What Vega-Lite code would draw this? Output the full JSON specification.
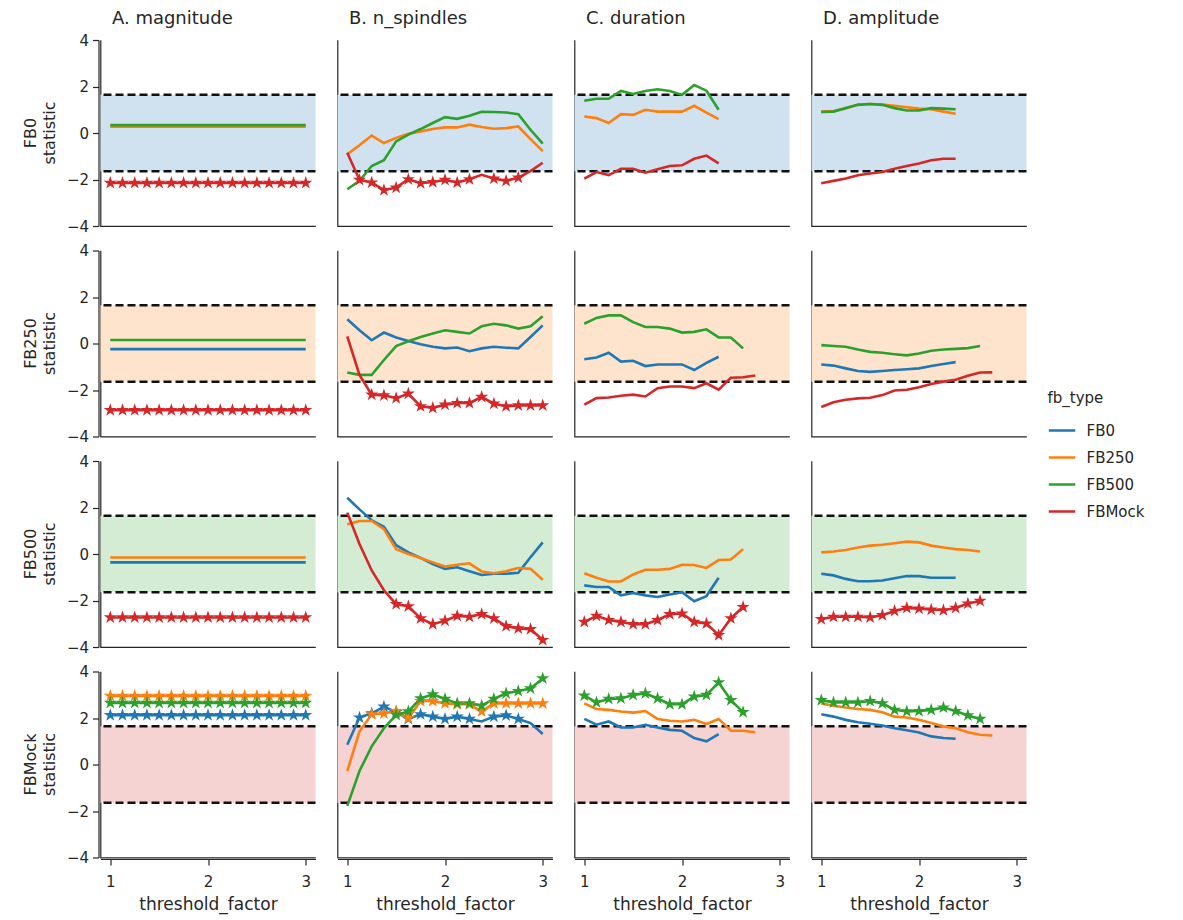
{
"$schema":"https://vega.github.io/schema/vega-lite/v6.json",
"background":"white",
"padding":{"left":22.5,"top":10,"right":5,"bottom":5},
"data":{"values":[
{"row":"FB0","col":"A","fb":"FB250","x":1,"y":0.27},{"row":"FB0","col":"A","fb":"FB250","x":1.125,"y":0.27},{"row":"FB0","col":"A","fb":"FB250","x":1.25,"y":0.27},{"row":"FB0","col":"A","fb":"FB250","x":1.375,"y":0.27},{"row":"FB0","col":"A","fb":"FB250","x":1.5,"y":0.27},{"row":"FB0","col":"A","fb":"FB250","x":1.625,"y":0.27},{"row":"FB0","col":"A","fb":"FB250","x":1.75,"y":0.27},{"row":"FB0","col":"A","fb":"FB250","x":1.875,"y":0.27},{"row":"FB0","col":"A","fb":"FB250","x":2,"y":0.27},{"row":"FB0","col":"A","fb":"FB250","x":2.125,"y":0.27},{"row":"FB0","col":"A","fb":"FB250","x":2.25,"y":0.27},{"row":"FB0","col":"A","fb":"FB250","x":2.375,"y":0.27},{"row":"FB0","col":"A","fb":"FB250","x":2.5,"y":0.27},{"row":"FB0","col":"A","fb":"FB250","x":2.625,"y":0.27},{"row":"FB0","col":"A","fb":"FB250","x":2.75,"y":0.27},{"row":"FB0","col":"A","fb":"FB250","x":2.875,"y":0.27},{"row":"FB0","col":"A","fb":"FB250","x":3,"y":0.27},
{"row":"FB0","col":"A","fb":"FB500","x":1,"y":0.34},{"row":"FB0","col":"A","fb":"FB500","x":1.125,"y":0.34},{"row":"FB0","col":"A","fb":"FB500","x":1.25,"y":0.34},{"row":"FB0","col":"A","fb":"FB500","x":1.375,"y":0.34},{"row":"FB0","col":"A","fb":"FB500","x":1.5,"y":0.34},{"row":"FB0","col":"A","fb":"FB500","x":1.625,"y":0.34},{"row":"FB0","col":"A","fb":"FB500","x":1.75,"y":0.34},{"row":"FB0","col":"A","fb":"FB500","x":1.875,"y":0.34},{"row":"FB0","col":"A","fb":"FB500","x":2,"y":0.34},{"row":"FB0","col":"A","fb":"FB500","x":2.125,"y":0.34},{"row":"FB0","col":"A","fb":"FB500","x":2.25,"y":0.34},{"row":"FB0","col":"A","fb":"FB500","x":2.375,"y":0.34},{"row":"FB0","col":"A","fb":"FB500","x":2.5,"y":0.34},{"row":"FB0","col":"A","fb":"FB500","x":2.625,"y":0.34},{"row":"FB0","col":"A","fb":"FB500","x":2.75,"y":0.34},{"row":"FB0","col":"A","fb":"FB500","x":2.875,"y":0.34},{"row":"FB0","col":"A","fb":"FB500","x":3,"y":0.34},
{"row":"FB0","col":"A","fb":"FBMock","x":1,"y":-2.15,"sig":1},{"row":"FB0","col":"A","fb":"FBMock","x":1.125,"y":-2.15,"sig":1},{"row":"FB0","col":"A","fb":"FBMock","x":1.25,"y":-2.15,"sig":1},{"row":"FB0","col":"A","fb":"FBMock","x":1.375,"y":-2.15,"sig":1},{"row":"FB0","col":"A","fb":"FBMock","x":1.5,"y":-2.15,"sig":1},{"row":"FB0","col":"A","fb":"FBMock","x":1.625,"y":-2.15,"sig":1},{"row":"FB0","col":"A","fb":"FBMock","x":1.75,"y":-2.15,"sig":1},{"row":"FB0","col":"A","fb":"FBMock","x":1.875,"y":-2.15,"sig":1},{"row":"FB0","col":"A","fb":"FBMock","x":2,"y":-2.15,"sig":1},{"row":"FB0","col":"A","fb":"FBMock","x":2.125,"y":-2.15,"sig":1},{"row":"FB0","col":"A","fb":"FBMock","x":2.25,"y":-2.15,"sig":1},{"row":"FB0","col":"A","fb":"FBMock","x":2.375,"y":-2.15,"sig":1},{"row":"FB0","col":"A","fb":"FBMock","x":2.5,"y":-2.15,"sig":1},{"row":"FB0","col":"A","fb":"FBMock","x":2.625,"y":-2.15,"sig":1},{"row":"FB0","col":"A","fb":"FBMock","x":2.75,"y":-2.15,"sig":1},{"row":"FB0","col":"A","fb":"FBMock","x":2.875,"y":-2.15,"sig":1},{"row":"FB0","col":"A","fb":"FBMock","x":3,"y":-2.15,"sig":1},
{"row":"FB250","col":"A","fb":"FB0","x":1,"y":-0.24},{"row":"FB250","col":"A","fb":"FB0","x":1.125,"y":-0.24},{"row":"FB250","col":"A","fb":"FB0","x":1.25,"y":-0.24},{"row":"FB250","col":"A","fb":"FB0","x":1.375,"y":-0.24},{"row":"FB250","col":"A","fb":"FB0","x":1.5,"y":-0.24},{"row":"FB250","col":"A","fb":"FB0","x":1.625,"y":-0.24},{"row":"FB250","col":"A","fb":"FB0","x":1.75,"y":-0.24},{"row":"FB250","col":"A","fb":"FB0","x":1.875,"y":-0.24},{"row":"FB250","col":"A","fb":"FB0","x":2,"y":-0.24},{"row":"FB250","col":"A","fb":"FB0","x":2.125,"y":-0.24},{"row":"FB250","col":"A","fb":"FB0","x":2.25,"y":-0.24},{"row":"FB250","col":"A","fb":"FB0","x":2.375,"y":-0.24},{"row":"FB250","col":"A","fb":"FB0","x":2.5,"y":-0.24},{"row":"FB250","col":"A","fb":"FB0","x":2.625,"y":-0.24},{"row":"FB250","col":"A","fb":"FB0","x":2.75,"y":-0.24},{"row":"FB250","col":"A","fb":"FB0","x":2.875,"y":-0.24},{"row":"FB250","col":"A","fb":"FB0","x":3,"y":-0.24},
{"row":"FB250","col":"A","fb":"FB500","x":1,"y":0.15},{"row":"FB250","col":"A","fb":"FB500","x":1.125,"y":0.15},{"row":"FB250","col":"A","fb":"FB500","x":1.25,"y":0.15},{"row":"FB250","col":"A","fb":"FB500","x":1.375,"y":0.15},{"row":"FB250","col":"A","fb":"FB500","x":1.5,"y":0.15},{"row":"FB250","col":"A","fb":"FB500","x":1.625,"y":0.15},{"row":"FB250","col":"A","fb":"FB500","x":1.75,"y":0.15},{"row":"FB250","col":"A","fb":"FB500","x":1.875,"y":0.15},{"row":"FB250","col":"A","fb":"FB500","x":2,"y":0.15},{"row":"FB250","col":"A","fb":"FB500","x":2.125,"y":0.15},{"row":"FB250","col":"A","fb":"FB500","x":2.25,"y":0.15},{"row":"FB250","col":"A","fb":"FB500","x":2.375,"y":0.15},{"row":"FB250","col":"A","fb":"FB500","x":2.5,"y":0.15},{"row":"FB250","col":"A","fb":"FB500","x":2.625,"y":0.15},{"row":"FB250","col":"A","fb":"FB500","x":2.75,"y":0.15},{"row":"FB250","col":"A","fb":"FB500","x":2.875,"y":0.15},{"row":"FB250","col":"A","fb":"FB500","x":3,"y":0.15},
{"row":"FB250","col":"A","fb":"FBMock","x":1,"y":-2.87,"sig":1},{"row":"FB250","col":"A","fb":"FBMock","x":1.125,"y":-2.87,"sig":1},{"row":"FB250","col":"A","fb":"FBMock","x":1.25,"y":-2.87,"sig":1},{"row":"FB250","col":"A","fb":"FBMock","x":1.375,"y":-2.87,"sig":1},{"row":"FB250","col":"A","fb":"FBMock","x":1.5,"y":-2.87,"sig":1},{"row":"FB250","col":"A","fb":"FBMock","x":1.625,"y":-2.87,"sig":1},{"row":"FB250","col":"A","fb":"FBMock","x":1.75,"y":-2.87,"sig":1},{"row":"FB250","col":"A","fb":"FBMock","x":1.875,"y":-2.87,"sig":1},{"row":"FB250","col":"A","fb":"FBMock","x":2,"y":-2.87,"sig":1},{"row":"FB250","col":"A","fb":"FBMock","x":2.125,"y":-2.87,"sig":1},{"row":"FB250","col":"A","fb":"FBMock","x":2.25,"y":-2.87,"sig":1},{"row":"FB250","col":"A","fb":"FBMock","x":2.375,"y":-2.87,"sig":1},{"row":"FB250","col":"A","fb":"FBMock","x":2.5,"y":-2.87,"sig":1},{"row":"FB250","col":"A","fb":"FBMock","x":2.625,"y":-2.87,"sig":1},{"row":"FB250","col":"A","fb":"FBMock","x":2.75,"y":-2.87,"sig":1},{"row":"FB250","col":"A","fb":"FBMock","x":2.875,"y":-2.87,"sig":1},{"row":"FB250","col":"A","fb":"FBMock","x":3,"y":-2.87,"sig":1},
{"row":"FB500","col":"A","fb":"FB0","x":1,"y":-0.36},{"row":"FB500","col":"A","fb":"FB0","x":1.125,"y":-0.36},{"row":"FB500","col":"A","fb":"FB0","x":1.25,"y":-0.36},{"row":"FB500","col":"A","fb":"FB0","x":1.375,"y":-0.36},{"row":"FB500","col":"A","fb":"FB0","x":1.5,"y":-0.36},{"row":"FB500","col":"A","fb":"FB0","x":1.625,"y":-0.36},{"row":"FB500","col":"A","fb":"FB0","x":1.75,"y":-0.36},{"row":"FB500","col":"A","fb":"FB0","x":1.875,"y":-0.36},{"row":"FB500","col":"A","fb":"FB0","x":2,"y":-0.36},{"row":"FB500","col":"A","fb":"FB0","x":2.125,"y":-0.36},{"row":"FB500","col":"A","fb":"FB0","x":2.25,"y":-0.36},{"row":"FB500","col":"A","fb":"FB0","x":2.375,"y":-0.36},{"row":"FB500","col":"A","fb":"FB0","x":2.5,"y":-0.36},{"row":"FB500","col":"A","fb":"FB0","x":2.625,"y":-0.36},{"row":"FB500","col":"A","fb":"FB0","x":2.75,"y":-0.36},{"row":"FB500","col":"A","fb":"FB0","x":2.875,"y":-0.36},{"row":"FB500","col":"A","fb":"FB0","x":3,"y":-0.36},
{"row":"FB500","col":"A","fb":"FB250","x":1,"y":-0.15},{"row":"FB500","col":"A","fb":"FB250","x":1.125,"y":-0.15},{"row":"FB500","col":"A","fb":"FB250","x":1.25,"y":-0.15},{"row":"FB500","col":"A","fb":"FB250","x":1.375,"y":-0.15},{"row":"FB500","col":"A","fb":"FB250","x":1.5,"y":-0.15},{"row":"FB500","col":"A","fb":"FB250","x":1.625,"y":-0.15},{"row":"FB500","col":"A","fb":"FB250","x":1.75,"y":-0.15},{"row":"FB500","col":"A","fb":"FB250","x":1.875,"y":-0.15},{"row":"FB500","col":"A","fb":"FB250","x":2,"y":-0.15},{"row":"FB500","col":"A","fb":"FB250","x":2.125,"y":-0.15},{"row":"FB500","col":"A","fb":"FB250","x":2.25,"y":-0.15},{"row":"FB500","col":"A","fb":"FB250","x":2.375,"y":-0.15},{"row":"FB500","col":"A","fb":"FB250","x":2.5,"y":-0.15},{"row":"FB500","col":"A","fb":"FB250","x":2.625,"y":-0.15},{"row":"FB500","col":"A","fb":"FB250","x":2.75,"y":-0.15},{"row":"FB500","col":"A","fb":"FB250","x":2.875,"y":-0.15},{"row":"FB500","col":"A","fb":"FB250","x":3,"y":-0.15},
{"row":"FB500","col":"A","fb":"FBMock","x":1,"y":-2.73,"sig":1},{"row":"FB500","col":"A","fb":"FBMock","x":1.125,"y":-2.73,"sig":1},{"row":"FB500","col":"A","fb":"FBMock","x":1.25,"y":-2.73,"sig":1},{"row":"FB500","col":"A","fb":"FBMock","x":1.375,"y":-2.73,"sig":1},{"row":"FB500","col":"A","fb":"FBMock","x":1.5,"y":-2.73,"sig":1},{"row":"FB500","col":"A","fb":"FBMock","x":1.625,"y":-2.73,"sig":1},{"row":"FB500","col":"A","fb":"FBMock","x":1.75,"y":-2.73,"sig":1},{"row":"FB500","col":"A","fb":"FBMock","x":1.875,"y":-2.73,"sig":1},{"row":"FB500","col":"A","fb":"FBMock","x":2,"y":-2.73,"sig":1},{"row":"FB500","col":"A","fb":"FBMock","x":2.125,"y":-2.73,"sig":1},{"row":"FB500","col":"A","fb":"FBMock","x":2.25,"y":-2.73,"sig":1},{"row":"FB500","col":"A","fb":"FBMock","x":2.375,"y":-2.73,"sig":1},{"row":"FB500","col":"A","fb":"FBMock","x":2.5,"y":-2.73,"sig":1},{"row":"FB500","col":"A","fb":"FBMock","x":2.625,"y":-2.73,"sig":1},{"row":"FB500","col":"A","fb":"FBMock","x":2.75,"y":-2.73,"sig":1},{"row":"FB500","col":"A","fb":"FBMock","x":2.875,"y":-2.73,"sig":1},{"row":"FB500","col":"A","fb":"FBMock","x":3,"y":-2.73,"sig":1},
{"row":"FBMock","col":"A","fb":"FB0","x":1,"y":2.12,"sig":1},{"row":"FBMock","col":"A","fb":"FB0","x":1.125,"y":2.12,"sig":1},{"row":"FBMock","col":"A","fb":"FB0","x":1.25,"y":2.12,"sig":1},{"row":"FBMock","col":"A","fb":"FB0","x":1.375,"y":2.12,"sig":1},{"row":"FBMock","col":"A","fb":"FB0","x":1.5,"y":2.12,"sig":1},{"row":"FBMock","col":"A","fb":"FB0","x":1.625,"y":2.12,"sig":1},{"row":"FBMock","col":"A","fb":"FB0","x":1.75,"y":2.12,"sig":1},{"row":"FBMock","col":"A","fb":"FB0","x":1.875,"y":2.12,"sig":1},{"row":"FBMock","col":"A","fb":"FB0","x":2,"y":2.12,"sig":1},{"row":"FBMock","col":"A","fb":"FB0","x":2.125,"y":2.12,"sig":1},{"row":"FBMock","col":"A","fb":"FB0","x":2.25,"y":2.12,"sig":1},{"row":"FBMock","col":"A","fb":"FB0","x":2.375,"y":2.12,"sig":1},{"row":"FBMock","col":"A","fb":"FB0","x":2.5,"y":2.12,"sig":1},{"row":"FBMock","col":"A","fb":"FB0","x":2.625,"y":2.12,"sig":1},{"row":"FBMock","col":"A","fb":"FB0","x":2.75,"y":2.12,"sig":1},{"row":"FBMock","col":"A","fb":"FB0","x":2.875,"y":2.12,"sig":1},{"row":"FBMock","col":"A","fb":"FB0","x":3,"y":2.12,"sig":1},
{"row":"FBMock","col":"A","fb":"FB250","x":1,"y":2.95,"sig":1},{"row":"FBMock","col":"A","fb":"FB250","x":1.125,"y":2.95,"sig":1},{"row":"FBMock","col":"A","fb":"FB250","x":1.25,"y":2.95,"sig":1},{"row":"FBMock","col":"A","fb":"FB250","x":1.375,"y":2.95,"sig":1},{"row":"FBMock","col":"A","fb":"FB250","x":1.5,"y":2.95,"sig":1},{"row":"FBMock","col":"A","fb":"FB250","x":1.625,"y":2.95,"sig":1},{"row":"FBMock","col":"A","fb":"FB250","x":1.75,"y":2.95,"sig":1},{"row":"FBMock","col":"A","fb":"FB250","x":1.875,"y":2.95,"sig":1},{"row":"FBMock","col":"A","fb":"FB250","x":2,"y":2.95,"sig":1},{"row":"FBMock","col":"A","fb":"FB250","x":2.125,"y":2.95,"sig":1},{"row":"FBMock","col":"A","fb":"FB250","x":2.25,"y":2.95,"sig":1},{"row":"FBMock","col":"A","fb":"FB250","x":2.375,"y":2.95,"sig":1},{"row":"FBMock","col":"A","fb":"FB250","x":2.5,"y":2.95,"sig":1},{"row":"FBMock","col":"A","fb":"FB250","x":2.625,"y":2.95,"sig":1},{"row":"FBMock","col":"A","fb":"FB250","x":2.75,"y":2.95,"sig":1},{"row":"FBMock","col":"A","fb":"FB250","x":2.875,"y":2.95,"sig":1},{"row":"FBMock","col":"A","fb":"FB250","x":3,"y":2.95,"sig":1},
{"row":"FBMock","col":"A","fb":"FB500","x":1,"y":2.65,"sig":1},{"row":"FBMock","col":"A","fb":"FB500","x":1.125,"y":2.65,"sig":1},{"row":"FBMock","col":"A","fb":"FB500","x":1.25,"y":2.65,"sig":1},{"row":"FBMock","col":"A","fb":"FB500","x":1.375,"y":2.65,"sig":1},{"row":"FBMock","col":"A","fb":"FB500","x":1.5,"y":2.65,"sig":1},{"row":"FBMock","col":"A","fb":"FB500","x":1.625,"y":2.65,"sig":1},{"row":"FBMock","col":"A","fb":"FB500","x":1.75,"y":2.65,"sig":1},{"row":"FBMock","col":"A","fb":"FB500","x":1.875,"y":2.65,"sig":1},{"row":"FBMock","col":"A","fb":"FB500","x":2,"y":2.65,"sig":1},{"row":"FBMock","col":"A","fb":"FB500","x":2.125,"y":2.65,"sig":1},{"row":"FBMock","col":"A","fb":"FB500","x":2.25,"y":2.65,"sig":1},{"row":"FBMock","col":"A","fb":"FB500","x":2.375,"y":2.65,"sig":1},{"row":"FBMock","col":"A","fb":"FB500","x":2.5,"y":2.65,"sig":1},{"row":"FBMock","col":"A","fb":"FB500","x":2.625,"y":2.65,"sig":1},{"row":"FBMock","col":"A","fb":"FB500","x":2.75,"y":2.65,"sig":1},{"row":"FBMock","col":"A","fb":"FB500","x":2.875,"y":2.65,"sig":1},{"row":"FBMock","col":"A","fb":"FB500","x":3,"y":2.65,"sig":1},

{"row":"FB0","col":"B","fb":"FB250","x":1,"y":-0.92},{"row":"FB0","col":"B","fb":"FB250","x":1.125,"y":-0.53},{"row":"FB0","col":"B","fb":"FB250","x":1.25,"y":-0.11},{"row":"FB0","col":"B","fb":"FB250","x":1.375,"y":-0.43},{"row":"FB0","col":"B","fb":"FB250","x":1.5,"y":-0.21},{"row":"FB0","col":"B","fb":"FB250","x":1.625,"y":-0.03},{"row":"FB0","col":"B","fb":"FB250","x":1.75,"y":0.07},{"row":"FB0","col":"B","fb":"FB250","x":1.875,"y":0.17},{"row":"FB0","col":"B","fb":"FB250","x":2,"y":0.24},{"row":"FB0","col":"B","fb":"FB250","x":2.125,"y":0.24},{"row":"FB0","col":"B","fb":"FB250","x":2.25,"y":0.36},{"row":"FB0","col":"B","fb":"FB250","x":2.375,"y":0.26},{"row":"FB0","col":"B","fb":"FB250","x":2.5,"y":0.18},{"row":"FB0","col":"B","fb":"FB250","x":2.625,"y":0.21},{"row":"FB0","col":"B","fb":"FB250","x":2.75,"y":0.28},{"row":"FB0","col":"B","fb":"FB250","x":2.875,"y":-0.26},{"row":"FB0","col":"B","fb":"FB250","x":3,"y":-0.78},
{"row":"FB0","col":"B","fb":"FB500","x":1,"y":-2.42},{"row":"FB0","col":"B","fb":"FB500","x":1.125,"y":-2.06},{"row":"FB0","col":"B","fb":"FB500","x":1.25,"y":-1.42},{"row":"FB0","col":"B","fb":"FB500","x":1.375,"y":-1.17},{"row":"FB0","col":"B","fb":"FB500","x":1.5,"y":-0.36},{"row":"FB0","col":"B","fb":"FB500","x":1.625,"y":-0.07},{"row":"FB0","col":"B","fb":"FB500","x":1.75,"y":0.17},{"row":"FB0","col":"B","fb":"FB500","x":1.875,"y":0.43},{"row":"FB0","col":"B","fb":"FB500","x":2,"y":0.68},{"row":"FB0","col":"B","fb":"FB500","x":2.125,"y":0.61},{"row":"FB0","col":"B","fb":"FB500","x":2.25,"y":0.74},{"row":"FB0","col":"B","fb":"FB500","x":2.375,"y":0.91},{"row":"FB0","col":"B","fb":"FB500","x":2.5,"y":0.9},{"row":"FB0","col":"B","fb":"FB500","x":2.625,"y":0.88},{"row":"FB0","col":"B","fb":"FB500","x":2.75,"y":0.81},{"row":"FB0","col":"B","fb":"FB500","x":2.875,"y":0.14},{"row":"FB0","col":"B","fb":"FB500","x":3,"y":-0.46},
{"row":"FB0","col":"B","fb":"FBMock","x":1,"y":-0.85},{"row":"FB0","col":"B","fb":"FBMock","x":1.125,"y":-2.02,"sig":1},{"row":"FB0","col":"B","fb":"FBMock","x":1.25,"y":-2.13,"sig":1},{"row":"FB0","col":"B","fb":"FBMock","x":1.375,"y":-2.46,"sig":1},{"row":"FB0","col":"B","fb":"FBMock","x":1.5,"y":-2.35,"sig":1},{"row":"FB0","col":"B","fb":"FBMock","x":1.625,"y":-1.99,"sig":1},{"row":"FB0","col":"B","fb":"FBMock","x":1.75,"y":-2.16,"sig":1},{"row":"FB0","col":"B","fb":"FBMock","x":1.875,"y":-2.11,"sig":1},{"row":"FB0","col":"B","fb":"FBMock","x":2,"y":-2.02,"sig":1},{"row":"FB0","col":"B","fb":"FBMock","x":2.125,"y":-2.13,"sig":1},{"row":"FB0","col":"B","fb":"FBMock","x":2.25,"y":-1.99,"sig":1},{"row":"FB0","col":"B","fb":"FBMock","x":2.375,"y":-1.8},{"row":"FB0","col":"B","fb":"FBMock","x":2.5,"y":-1.96,"sig":1},{"row":"FB0","col":"B","fb":"FBMock","x":2.625,"y":-2.06,"sig":1},{"row":"FB0","col":"B","fb":"FBMock","x":2.75,"y":-1.92,"sig":1},{"row":"FB0","col":"B","fb":"FBMock","x":2.875,"y":-1.64},{"row":"FB0","col":"B","fb":"FBMock","x":3,"y":-1.28},
{"row":"FB250","col":"B","fb":"FB0","x":1,"y":1.04},{"row":"FB250","col":"B","fb":"FB0","x":1.125,"y":0.57},{"row":"FB250","col":"B","fb":"FB0","x":1.25,"y":0.14},{"row":"FB250","col":"B","fb":"FB0","x":1.375,"y":0.47},{"row":"FB250","col":"B","fb":"FB0","x":1.5,"y":0.26},{"row":"FB250","col":"B","fb":"FB0","x":1.625,"y":0.11},{"row":"FB250","col":"B","fb":"FB0","x":1.75,"y":-0.03},{"row":"FB250","col":"B","fb":"FB0","x":1.875,"y":-0.14},{"row":"FB250","col":"B","fb":"FB0","x":2,"y":-0.21},{"row":"FB250","col":"B","fb":"FB0","x":2.125,"y":-0.17},{"row":"FB250","col":"B","fb":"FB0","x":2.25,"y":-0.33},{"row":"FB250","col":"B","fb":"FB0","x":2.375,"y":-0.21},{"row":"FB250","col":"B","fb":"FB0","x":2.5,"y":-0.14},{"row":"FB250","col":"B","fb":"FB0","x":2.625,"y":-0.18},{"row":"FB250","col":"B","fb":"FB0","x":2.75,"y":-0.21},{"row":"FB250","col":"B","fb":"FB0","x":2.875,"y":0.28},{"row":"FB250","col":"B","fb":"FB0","x":3,"y":0.78},
{"row":"FB250","col":"B","fb":"FB500","x":1,"y":-1.25},{"row":"FB250","col":"B","fb":"FB500","x":1.125,"y":-1.35},{"row":"FB250","col":"B","fb":"FB500","x":1.25,"y":-1.35},{"row":"FB250","col":"B","fb":"FB500","x":1.375,"y":-0.71},{"row":"FB250","col":"B","fb":"FB500","x":1.5,"y":-0.11},{"row":"FB250","col":"B","fb":"FB500","x":1.625,"y":0.1},{"row":"FB250","col":"B","fb":"FB500","x":1.75,"y":0.28},{"row":"FB250","col":"B","fb":"FB500","x":1.875,"y":0.43},{"row":"FB250","col":"B","fb":"FB500","x":2,"y":0.57},{"row":"FB250","col":"B","fb":"FB500","x":2.125,"y":0.5},{"row":"FB250","col":"B","fb":"FB500","x":2.25,"y":0.43},{"row":"FB250","col":"B","fb":"FB500","x":2.375,"y":0.74},{"row":"FB250","col":"B","fb":"FB500","x":2.5,"y":0.85},{"row":"FB250","col":"B","fb":"FB500","x":2.625,"y":0.78},{"row":"FB250","col":"B","fb":"FB500","x":2.75,"y":0.64},{"row":"FB250","col":"B","fb":"FB500","x":2.875,"y":0.74},{"row":"FB250","col":"B","fb":"FB500","x":3,"y":1.17},
{"row":"FB250","col":"B","fb":"FBMock","x":1,"y":0.31},{"row":"FB250","col":"B","fb":"FBMock","x":1.125,"y":-1.35},{"row":"FB250","col":"B","fb":"FBMock","x":1.25,"y":-2.2,"sig":1},{"row":"FB250","col":"B","fb":"FBMock","x":1.375,"y":-2.23,"sig":1},{"row":"FB250","col":"B","fb":"FBMock","x":1.5,"y":-2.35,"sig":1},{"row":"FB250","col":"B","fb":"FBMock","x":1.625,"y":-2.16,"sig":1},{"row":"FB250","col":"B","fb":"FBMock","x":1.75,"y":-2.7,"sig":1},{"row":"FB250","col":"B","fb":"FBMock","x":1.875,"y":-2.77,"sig":1},{"row":"FB250","col":"B","fb":"FBMock","x":2,"y":-2.63,"sig":1},{"row":"FB250","col":"B","fb":"FBMock","x":2.125,"y":-2.56,"sig":1},{"row":"FB250","col":"B","fb":"FBMock","x":2.25,"y":-2.56,"sig":1},{"row":"FB250","col":"B","fb":"FBMock","x":2.375,"y":-2.3,"sig":1},{"row":"FB250","col":"B","fb":"FBMock","x":2.5,"y":-2.59,"sig":1},{"row":"FB250","col":"B","fb":"FBMock","x":2.625,"y":-2.7,"sig":1},{"row":"FB250","col":"B","fb":"FBMock","x":2.75,"y":-2.66,"sig":1},{"row":"FB250","col":"B","fb":"FBMock","x":2.875,"y":-2.66,"sig":1},{"row":"FB250","col":"B","fb":"FBMock","x":3,"y":-2.66,"sig":1},
{"row":"FB500","col":"B","fb":"FB0","x":1,"y":2.42},{"row":"FB500","col":"B","fb":"FB0","x":1.125,"y":1.92},{"row":"FB500","col":"B","fb":"FB0","x":1.25,"y":1.45},{"row":"FB500","col":"B","fb":"FB0","x":1.375,"y":1.17},{"row":"FB500","col":"B","fb":"FB0","x":1.5,"y":0.38},{"row":"FB500","col":"B","fb":"FB0","x":1.625,"y":0.07},{"row":"FB500","col":"B","fb":"FB0","x":1.75,"y":-0.17},{"row":"FB500","col":"B","fb":"FB0","x":1.875,"y":-0.43},{"row":"FB500","col":"B","fb":"FB0","x":2,"y":-0.64},{"row":"FB500","col":"B","fb":"FB0","x":2.125,"y":-0.57},{"row":"FB500","col":"B","fb":"FB0","x":2.25,"y":-0.74},{"row":"FB500","col":"B","fb":"FB0","x":2.375,"y":-0.9},{"row":"FB500","col":"B","fb":"FB0","x":2.5,"y":-0.85},{"row":"FB500","col":"B","fb":"FB0","x":2.625,"y":-0.85},{"row":"FB500","col":"B","fb":"FB0","x":2.75,"y":-0.81},{"row":"FB500","col":"B","fb":"FB0","x":2.875,"y":-0.14},{"row":"FB500","col":"B","fb":"FB0","x":3,"y":0.5},
{"row":"FB500","col":"B","fb":"FB250","x":1,"y":1.28},{"row":"FB500","col":"B","fb":"FB250","x":1.125,"y":1.42},{"row":"FB500","col":"B","fb":"FB250","x":1.25,"y":1.42},{"row":"FB500","col":"B","fb":"FB250","x":1.375,"y":1.07},{"row":"FB500","col":"B","fb":"FB250","x":1.5,"y":0.21},{"row":"FB500","col":"B","fb":"FB250","x":1.625,"y":0},{"row":"FB500","col":"B","fb":"FB250","x":1.75,"y":-0.17},{"row":"FB500","col":"B","fb":"FB250","x":1.875,"y":-0.36},{"row":"FB500","col":"B","fb":"FB250","x":2,"y":-0.54},{"row":"FB500","col":"B","fb":"FB250","x":2.125,"y":-0.46},{"row":"FB500","col":"B","fb":"FB250","x":2.25,"y":-0.4},{"row":"FB500","col":"B","fb":"FB250","x":2.375,"y":-0.75},{"row":"FB500","col":"B","fb":"FB250","x":2.5,"y":-0.83},{"row":"FB500","col":"B","fb":"FB250","x":2.625,"y":-0.74},{"row":"FB500","col":"B","fb":"FB250","x":2.75,"y":-0.6},{"row":"FB500","col":"B","fb":"FB250","x":2.875,"y":-0.64},{"row":"FB500","col":"B","fb":"FB250","x":3,"y":-1.11},
{"row":"FB500","col":"B","fb":"FBMock","x":1,"y":1.78},{"row":"FB500","col":"B","fb":"FBMock","x":1.125,"y":0.43},{"row":"FB500","col":"B","fb":"FBMock","x":1.25,"y":-0.71},{"row":"FB500","col":"B","fb":"FBMock","x":1.375,"y":-1.56},{"row":"FB500","col":"B","fb":"FBMock","x":1.5,"y":-2.16,"sig":1},{"row":"FB500","col":"B","fb":"FBMock","x":1.625,"y":-2.25,"sig":1},{"row":"FB500","col":"B","fb":"FBMock","x":1.75,"y":-2.77,"sig":1},{"row":"FB500","col":"B","fb":"FBMock","x":1.875,"y":-3.02,"sig":1},{"row":"FB500","col":"B","fb":"FBMock","x":2,"y":-2.87,"sig":1},{"row":"FB500","col":"B","fb":"FBMock","x":2.125,"y":-2.66,"sig":1},{"row":"FB500","col":"B","fb":"FBMock","x":2.25,"y":-2.7,"sig":1},{"row":"FB500","col":"B","fb":"FBMock","x":2.375,"y":-2.59,"sig":1},{"row":"FB500","col":"B","fb":"FBMock","x":2.5,"y":-2.77,"sig":1},{"row":"FB500","col":"B","fb":"FBMock","x":2.625,"y":-3.1,"sig":1},{"row":"FB500","col":"B","fb":"FBMock","x":2.75,"y":-3.2,"sig":1},{"row":"FB500","col":"B","fb":"FBMock","x":2.875,"y":-3.23,"sig":1},{"row":"FB500","col":"B","fb":"FBMock","x":3,"y":-3.7,"sig":1},
{"row":"FBMock","col":"B","fb":"FB0","x":1,"y":0.85},{"row":"FBMock","col":"B","fb":"FB0","x":1.125,"y":2.02,"sig":1},{"row":"FBMock","col":"B","fb":"FB0","x":1.25,"y":2.2,"sig":1},{"row":"FBMock","col":"B","fb":"FB0","x":1.375,"y":2.49,"sig":1},{"row":"FBMock","col":"B","fb":"FB0","x":1.5,"y":2.25,"sig":1},{"row":"FBMock","col":"B","fb":"FB0","x":1.625,"y":1.96,"sig":1},{"row":"FBMock","col":"B","fb":"FB0","x":1.75,"y":2.16,"sig":1},{"row":"FBMock","col":"B","fb":"FB0","x":1.875,"y":2.06,"sig":1},{"row":"FBMock","col":"B","fb":"FB0","x":2,"y":1.96,"sig":1},{"row":"FBMock","col":"B","fb":"FB0","x":2.125,"y":2.06,"sig":1},{"row":"FBMock","col":"B","fb":"FB0","x":2.25,"y":1.96,"sig":1},{"row":"FBMock","col":"B","fb":"FB0","x":2.375,"y":1.85},{"row":"FBMock","col":"B","fb":"FB0","x":2.5,"y":2.06,"sig":1},{"row":"FBMock","col":"B","fb":"FB0","x":2.625,"y":2.11,"sig":1},{"row":"FBMock","col":"B","fb":"FB0","x":2.75,"y":1.96,"sig":1},{"row":"FBMock","col":"B","fb":"FB0","x":2.875,"y":1.78},{"row":"FBMock","col":"B","fb":"FB0","x":3,"y":1.31},
{"row":"FBMock","col":"B","fb":"FB250","x":1,"y":-0.28},{"row":"FBMock","col":"B","fb":"FB250","x":1.125,"y":1.42},{"row":"FBMock","col":"B","fb":"FB250","x":1.25,"y":2.16,"sig":1},{"row":"FBMock","col":"B","fb":"FB250","x":1.375,"y":2.2,"sig":1},{"row":"FBMock","col":"B","fb":"FB250","x":1.5,"y":2.3,"sig":1},{"row":"FBMock","col":"B","fb":"FB250","x":1.625,"y":1.99,"sig":1},{"row":"FBMock","col":"B","fb":"FB250","x":1.75,"y":2.73,"sig":1},{"row":"FBMock","col":"B","fb":"FB250","x":1.875,"y":2.73,"sig":1},{"row":"FBMock","col":"B","fb":"FB250","x":2,"y":2.63,"sig":1},{"row":"FBMock","col":"B","fb":"FB250","x":2.125,"y":2.59,"sig":1},{"row":"FBMock","col":"B","fb":"FB250","x":2.25,"y":2.59,"sig":1},{"row":"FBMock","col":"B","fb":"FB250","x":2.375,"y":2.28,"sig":1},{"row":"FBMock","col":"B","fb":"FB250","x":2.5,"y":2.63,"sig":1},{"row":"FBMock","col":"B","fb":"FB250","x":2.625,"y":2.63,"sig":1},{"row":"FBMock","col":"B","fb":"FB250","x":2.75,"y":2.63,"sig":1},{"row":"FBMock","col":"B","fb":"FB250","x":2.875,"y":2.63,"sig":1},{"row":"FBMock","col":"B","fb":"FB250","x":3,"y":2.63,"sig":1},
{"row":"FBMock","col":"B","fb":"FB500","x":1,"y":-1.78},{"row":"FBMock","col":"B","fb":"FB500","x":1.125,"y":-0.28},{"row":"FBMock","col":"B","fb":"FB500","x":1.25,"y":0.78},{"row":"FBMock","col":"B","fb":"FB500","x":1.375,"y":1.56},{"row":"FBMock","col":"B","fb":"FB500","x":1.5,"y":2.13,"sig":1},{"row":"FBMock","col":"B","fb":"FB500","x":1.625,"y":2.28,"sig":1},{"row":"FBMock","col":"B","fb":"FB500","x":1.75,"y":2.84,"sig":1},{"row":"FBMock","col":"B","fb":"FB500","x":1.875,"y":3.02,"sig":1},{"row":"FBMock","col":"B","fb":"FB500","x":2,"y":2.82,"sig":1},{"row":"FBMock","col":"B","fb":"FB500","x":2.125,"y":2.63,"sig":1},{"row":"FBMock","col":"B","fb":"FB500","x":2.25,"y":2.63,"sig":1},{"row":"FBMock","col":"B","fb":"FB500","x":2.375,"y":2.53,"sig":1},{"row":"FBMock","col":"B","fb":"FB500","x":2.5,"y":2.82,"sig":1},{"row":"FBMock","col":"B","fb":"FB500","x":2.625,"y":3.06,"sig":1},{"row":"FBMock","col":"B","fb":"FB500","x":2.75,"y":3.16,"sig":1},{"row":"FBMock","col":"B","fb":"FB500","x":2.875,"y":3.27,"sig":1},{"row":"FBMock","col":"B","fb":"FB500","x":3,"y":3.7,"sig":1},

{"row":"FB0","col":"C","fb":"FB250","x":1,"y":0.71},{"row":"FB0","col":"C","fb":"FB250","x":1.125,"y":0.64},{"row":"FB0","col":"C","fb":"FB250","x":1.25,"y":0.43},{"row":"FB0","col":"C","fb":"FB250","x":1.375,"y":0.81},{"row":"FB0","col":"C","fb":"FB250","x":1.5,"y":0.78},{"row":"FB0","col":"C","fb":"FB250","x":1.625,"y":1},{"row":"FB0","col":"C","fb":"FB250","x":1.75,"y":0.92},{"row":"FB0","col":"C","fb":"FB250","x":1.875,"y":0.92},{"row":"FB0","col":"C","fb":"FB250","x":2,"y":0.92},{"row":"FB0","col":"C","fb":"FB250","x":2.125,"y":1.17},{"row":"FB0","col":"C","fb":"FB250","x":2.25,"y":0.88},{"row":"FB0","col":"C","fb":"FB250","x":2.375,"y":0.6},
{"row":"FB0","col":"C","fb":"FB500","x":1,"y":1.39},{"row":"FB0","col":"C","fb":"FB500","x":1.125,"y":1.47},{"row":"FB0","col":"C","fb":"FB500","x":1.25,"y":1.47},{"row":"FB0","col":"C","fb":"FB500","x":1.375,"y":1.81},{"row":"FB0","col":"C","fb":"FB500","x":1.5,"y":1.68},{"row":"FB0","col":"C","fb":"FB500","x":1.625,"y":1.81},{"row":"FB0","col":"C","fb":"FB500","x":1.75,"y":1.88},{"row":"FB0","col":"C","fb":"FB500","x":1.875,"y":1.81},{"row":"FB0","col":"C","fb":"FB500","x":2,"y":1.64},{"row":"FB0","col":"C","fb":"FB500","x":2.125,"y":2.06},{"row":"FB0","col":"C","fb":"FB500","x":2.25,"y":1.82},{"row":"FB0","col":"C","fb":"FB500","x":2.375,"y":1},
{"row":"FB0","col":"C","fb":"FBMock","x":1,"y":-1.96},{"row":"FB0","col":"C","fb":"FBMock","x":1.125,"y":-1.68},{"row":"FB0","col":"C","fb":"FBMock","x":1.25,"y":-1.81},{"row":"FB0","col":"C","fb":"FBMock","x":1.375,"y":-1.54},{"row":"FB0","col":"C","fb":"FBMock","x":1.5,"y":-1.54},{"row":"FB0","col":"C","fb":"FBMock","x":1.625,"y":-1.71},{"row":"FB0","col":"C","fb":"FBMock","x":1.75,"y":-1.56},{"row":"FB0","col":"C","fb":"FBMock","x":1.875,"y":-1.42},{"row":"FB0","col":"C","fb":"FBMock","x":2,"y":-1.39},{"row":"FB0","col":"C","fb":"FBMock","x":2.125,"y":-1.11},{"row":"FB0","col":"C","fb":"FBMock","x":2.25,"y":-0.97},{"row":"FB0","col":"C","fb":"FBMock","x":2.375,"y":-1.31},
{"row":"FB250","col":"C","fb":"FB0","x":1,"y":-0.68},{"row":"FB250","col":"C","fb":"FB0","x":1.125,"y":-0.6},{"row":"FB250","col":"C","fb":"FB0","x":1.25,"y":-0.4},{"row":"FB250","col":"C","fb":"FB0","x":1.375,"y":-0.78},{"row":"FB250","col":"C","fb":"FB0","x":1.5,"y":-0.74},{"row":"FB250","col":"C","fb":"FB0","x":1.625,"y":-0.97},{"row":"FB250","col":"C","fb":"FB0","x":1.75,"y":-0.9},{"row":"FB250","col":"C","fb":"FB0","x":1.875,"y":-0.9},{"row":"FB250","col":"C","fb":"FB0","x":2,"y":-0.9},{"row":"FB250","col":"C","fb":"FB0","x":2.125,"y":-1.14},{"row":"FB250","col":"C","fb":"FB0","x":2.25,"y":-0.83},{"row":"FB250","col":"C","fb":"FB0","x":2.375,"y":-0.57},
{"row":"FB250","col":"C","fb":"FB500","x":1,"y":0.85},{"row":"FB250","col":"C","fb":"FB500","x":1.125,"y":1.1},{"row":"FB250","col":"C","fb":"FB500","x":1.25,"y":1.21},{"row":"FB250","col":"C","fb":"FB500","x":1.375,"y":1.21},{"row":"FB250","col":"C","fb":"FB500","x":1.5,"y":0.92},{"row":"FB250","col":"C","fb":"FB500","x":1.625,"y":0.71},{"row":"FB250","col":"C","fb":"FB500","x":1.75,"y":0.71},{"row":"FB250","col":"C","fb":"FB500","x":1.875,"y":0.64},{"row":"FB250","col":"C","fb":"FB500","x":2,"y":0.47},{"row":"FB250","col":"C","fb":"FB500","x":2.125,"y":0.5},{"row":"FB250","col":"C","fb":"FB500","x":2.25,"y":0.61},{"row":"FB250","col":"C","fb":"FB500","x":2.375,"y":0.26},{"row":"FB250","col":"C","fb":"FB500","x":2.5,"y":0.26},{"row":"FB250","col":"C","fb":"FB500","x":2.625,"y":-0.21},
{"row":"FB250","col":"C","fb":"FBMock","x":1,"y":-2.63},{"row":"FB250","col":"C","fb":"FBMock","x":1.125,"y":-2.35},{"row":"FB250","col":"C","fb":"FBMock","x":1.25,"y":-2.32},{"row":"FB250","col":"C","fb":"FBMock","x":1.375,"y":-2.25},{"row":"FB250","col":"C","fb":"FBMock","x":1.5,"y":-2.2},{"row":"FB250","col":"C","fb":"FBMock","x":1.625,"y":-2.28},{"row":"FB250","col":"C","fb":"FBMock","x":1.75,"y":-1.92},{"row":"FB250","col":"C","fb":"FBMock","x":1.875,"y":-1.85},{"row":"FB250","col":"C","fb":"FBMock","x":2,"y":-1.85},{"row":"FB250","col":"C","fb":"FBMock","x":2.125,"y":-1.92},{"row":"FB250","col":"C","fb":"FBMock","x":2.25,"y":-1.71},{"row":"FB250","col":"C","fb":"FBMock","x":2.375,"y":-1.99},{"row":"FB250","col":"C","fb":"FBMock","x":2.5,"y":-1.47},{"row":"FB250","col":"C","fb":"FBMock","x":2.625,"y":-1.45},{"row":"FB250","col":"C","fb":"FBMock","x":2.75,"y":-1.38},
{"row":"FB500","col":"C","fb":"FB0","x":1,"y":-1.35},{"row":"FB500","col":"C","fb":"FB0","x":1.125,"y":-1.42},{"row":"FB500","col":"C","fb":"FB0","x":1.25,"y":-1.42},{"row":"FB500","col":"C","fb":"FB0","x":1.375,"y":-1.78},{"row":"FB500","col":"C","fb":"FB0","x":1.5,"y":-1.68},{"row":"FB500","col":"C","fb":"FB0","x":1.625,"y":-1.78},{"row":"FB500","col":"C","fb":"FB0","x":1.75,"y":-1.85},{"row":"FB500","col":"C","fb":"FB0","x":1.875,"y":-1.74},{"row":"FB500","col":"C","fb":"FB0","x":2,"y":-1.64},{"row":"FB500","col":"C","fb":"FB0","x":2.125,"y":-2.03},{"row":"FB500","col":"C","fb":"FB0","x":2.25,"y":-1.81},{"row":"FB500","col":"C","fb":"FB0","x":2.375,"y":-1.02},
{"row":"FB500","col":"C","fb":"FB250","x":1,"y":-0.83},{"row":"FB500","col":"C","fb":"FB250","x":1.125,"y":-1.02},{"row":"FB500","col":"C","fb":"FB250","x":1.25,"y":-1.18},{"row":"FB500","col":"C","fb":"FB250","x":1.375,"y":-1.18},{"row":"FB500","col":"C","fb":"FB250","x":1.5,"y":-0.88},{"row":"FB500","col":"C","fb":"FB250","x":1.625,"y":-0.68},{"row":"FB500","col":"C","fb":"FB250","x":1.75,"y":-0.68},{"row":"FB500","col":"C","fb":"FB250","x":1.875,"y":-0.64},{"row":"FB500","col":"C","fb":"FB250","x":2,"y":-0.46},{"row":"FB500","col":"C","fb":"FB250","x":2.125,"y":-0.47},{"row":"FB500","col":"C","fb":"FB250","x":2.25,"y":-0.6},{"row":"FB500","col":"C","fb":"FB250","x":2.375,"y":-0.26},{"row":"FB500","col":"C","fb":"FB250","x":2.5,"y":-0.24},{"row":"FB500","col":"C","fb":"FB250","x":2.625,"y":0.21},
{"row":"FB500","col":"C","fb":"FBMock","x":1,"y":-2.92,"sig":1},{"row":"FB500","col":"C","fb":"FBMock","x":1.125,"y":-2.66,"sig":1},{"row":"FB500","col":"C","fb":"FBMock","x":1.25,"y":-2.84,"sig":1},{"row":"FB500","col":"C","fb":"FBMock","x":1.375,"y":-2.92,"sig":1},{"row":"FB500","col":"C","fb":"FBMock","x":1.5,"y":-3.02,"sig":1},{"row":"FB500","col":"C","fb":"FBMock","x":1.625,"y":-3.02,"sig":1},{"row":"FB500","col":"C","fb":"FBMock","x":1.75,"y":-2.84,"sig":1},{"row":"FB500","col":"C","fb":"FBMock","x":1.875,"y":-2.59,"sig":1},{"row":"FB500","col":"C","fb":"FBMock","x":2,"y":-2.56,"sig":1},{"row":"FB500","col":"C","fb":"FBMock","x":2.125,"y":-2.92,"sig":1},{"row":"FB500","col":"C","fb":"FBMock","x":2.25,"y":-2.99,"sig":1},{"row":"FB500","col":"C","fb":"FBMock","x":2.375,"y":-3.49,"sig":1},{"row":"FB500","col":"C","fb":"FBMock","x":2.5,"y":-2.77,"sig":1},{"row":"FB500","col":"C","fb":"FBMock","x":2.625,"y":-2.28,"sig":1},
{"row":"FBMock","col":"C","fb":"FB0","x":1,"y":1.96},{"row":"FBMock","col":"C","fb":"FB0","x":1.125,"y":1.71},{"row":"FBMock","col":"C","fb":"FB0","x":1.25,"y":1.85},{"row":"FBMock","col":"C","fb":"FB0","x":1.375,"y":1.59},{"row":"FBMock","col":"C","fb":"FB0","x":1.5,"y":1.59},{"row":"FBMock","col":"C","fb":"FB0","x":1.625,"y":1.71},{"row":"FBMock","col":"C","fb":"FB0","x":1.75,"y":1.59},{"row":"FBMock","col":"C","fb":"FB0","x":1.875,"y":1.49},{"row":"FBMock","col":"C","fb":"FB0","x":2,"y":1.45},{"row":"FBMock","col":"C","fb":"FB0","x":2.125,"y":1.14},{"row":"FBMock","col":"C","fb":"FB0","x":2.25,"y":1},{"row":"FBMock","col":"C","fb":"FB0","x":2.375,"y":1.31},
{"row":"FBMock","col":"C","fb":"FB250","x":1,"y":2.63},{"row":"FBMock","col":"C","fb":"FB250","x":1.125,"y":2.39},{"row":"FBMock","col":"C","fb":"FB250","x":1.25,"y":2.35},{"row":"FBMock","col":"C","fb":"FB250","x":1.375,"y":2.28},{"row":"FBMock","col":"C","fb":"FB250","x":1.5,"y":2.23},{"row":"FBMock","col":"C","fb":"FB250","x":1.625,"y":2.3},{"row":"FBMock","col":"C","fb":"FB250","x":1.75,"y":1.96},{"row":"FBMock","col":"C","fb":"FB250","x":1.875,"y":1.88},{"row":"FBMock","col":"C","fb":"FB250","x":2,"y":1.85},{"row":"FBMock","col":"C","fb":"FB250","x":2.125,"y":1.92},{"row":"FBMock","col":"C","fb":"FB250","x":2.25,"y":1.74},{"row":"FBMock","col":"C","fb":"FB250","x":2.375,"y":1.96},{"row":"FBMock","col":"C","fb":"FB250","x":2.5,"y":1.45},{"row":"FBMock","col":"C","fb":"FB250","x":2.625,"y":1.45},{"row":"FBMock","col":"C","fb":"FB250","x":2.75,"y":1.39},
{"row":"FBMock","col":"C","fb":"FB500","x":1,"y":2.96,"sig":1},{"row":"FBMock","col":"C","fb":"FB500","x":1.125,"y":2.67,"sig":1},{"row":"FBMock","col":"C","fb":"FB500","x":1.25,"y":2.82,"sig":1},{"row":"FBMock","col":"C","fb":"FB500","x":1.375,"y":2.84,"sig":1},{"row":"FBMock","col":"C","fb":"FB500","x":1.5,"y":2.99,"sig":1},{"row":"FBMock","col":"C","fb":"FB500","x":1.625,"y":3.06,"sig":1},{"row":"FBMock","col":"C","fb":"FB500","x":1.75,"y":2.84,"sig":1},{"row":"FBMock","col":"C","fb":"FB500","x":1.875,"y":2.59,"sig":1},{"row":"FBMock","col":"C","fb":"FB500","x":2,"y":2.59,"sig":1},{"row":"FBMock","col":"C","fb":"FB500","x":2.125,"y":2.92,"sig":1},{"row":"FBMock","col":"C","fb":"FB500","x":2.25,"y":2.99,"sig":1},{"row":"FBMock","col":"C","fb":"FB500","x":2.375,"y":3.53,"sig":1},{"row":"FBMock","col":"C","fb":"FB500","x":2.5,"y":2.77,"sig":1},{"row":"FBMock","col":"C","fb":"FB500","x":2.625,"y":2.25,"sig":1},

{"row":"FB0","col":"D","fb":"FB250","x":1,"y":0.92},{"row":"FB0","col":"D","fb":"FB250","x":1.125,"y":0.94},{"row":"FB0","col":"D","fb":"FB250","x":1.25,"y":1.05},{"row":"FB0","col":"D","fb":"FB250","x":1.375,"y":1.22},{"row":"FB0","col":"D","fb":"FB250","x":1.5,"y":1.25},{"row":"FB0","col":"D","fb":"FB250","x":1.625,"y":1.22},{"row":"FB0","col":"D","fb":"FB250","x":1.75,"y":1.17},{"row":"FB0","col":"D","fb":"FB250","x":1.875,"y":1.11},{"row":"FB0","col":"D","fb":"FB250","x":2,"y":1.05},{"row":"FB0","col":"D","fb":"FB250","x":2.125,"y":1.02},{"row":"FB0","col":"D","fb":"FB250","x":2.25,"y":0.92},{"row":"FB0","col":"D","fb":"FB250","x":2.375,"y":0.83},
{"row":"FB0","col":"D","fb":"FB500","x":1,"y":0.9},{"row":"FB0","col":"D","fb":"FB500","x":1.125,"y":0.92},{"row":"FB0","col":"D","fb":"FB500","x":1.25,"y":1.07},{"row":"FB0","col":"D","fb":"FB500","x":1.375,"y":1.21},{"row":"FB0","col":"D","fb":"FB500","x":1.5,"y":1.25},{"row":"FB0","col":"D","fb":"FB500","x":1.625,"y":1.21},{"row":"FB0","col":"D","fb":"FB500","x":1.75,"y":1.07},{"row":"FB0","col":"D","fb":"FB500","x":1.875,"y":0.97},{"row":"FB0","col":"D","fb":"FB500","x":2,"y":0.97},{"row":"FB0","col":"D","fb":"FB500","x":2.125,"y":1.07},{"row":"FB0","col":"D","fb":"FB500","x":2.25,"y":1.05},{"row":"FB0","col":"D","fb":"FB500","x":2.375,"y":1.02},
{"row":"FB0","col":"D","fb":"FBMock","x":1,"y":-2.16},{"row":"FB0","col":"D","fb":"FBMock","x":1.125,"y":-2.06},{"row":"FB0","col":"D","fb":"FBMock","x":1.25,"y":-1.96},{"row":"FB0","col":"D","fb":"FBMock","x":1.375,"y":-1.82},{"row":"FB0","col":"D","fb":"FBMock","x":1.5,"y":-1.74},{"row":"FB0","col":"D","fb":"FBMock","x":1.625,"y":-1.68},{"row":"FB0","col":"D","fb":"FBMock","x":1.75,"y":-1.54},{"row":"FB0","col":"D","fb":"FBMock","x":1.875,"y":-1.42},{"row":"FB0","col":"D","fb":"FBMock","x":2,"y":-1.31},{"row":"FB0","col":"D","fb":"FBMock","x":2.125,"y":-1.17},{"row":"FB0","col":"D","fb":"FBMock","x":2.25,"y":-1.11},{"row":"FB0","col":"D","fb":"FBMock","x":2.375,"y":-1.11},
{"row":"FB250","col":"D","fb":"FB0","x":1,"y":-0.9},{"row":"FB250","col":"D","fb":"FB0","x":1.125,"y":-0.95},{"row":"FB250","col":"D","fb":"FB0","x":1.25,"y":-1.07},{"row":"FB250","col":"D","fb":"FB0","x":1.375,"y":-1.18},{"row":"FB250","col":"D","fb":"FB0","x":1.5,"y":-1.22},{"row":"FB250","col":"D","fb":"FB0","x":1.625,"y":-1.18},{"row":"FB250","col":"D","fb":"FB0","x":1.75,"y":-1.14},{"row":"FB250","col":"D","fb":"FB0","x":1.875,"y":-1.11},{"row":"FB250","col":"D","fb":"FB0","x":2,"y":-1.07},{"row":"FB250","col":"D","fb":"FB0","x":2.125,"y":-0.97},{"row":"FB250","col":"D","fb":"FB0","x":2.25,"y":-0.88},{"row":"FB250","col":"D","fb":"FB0","x":2.375,"y":-0.8},
{"row":"FB250","col":"D","fb":"FB500","x":1,"y":-0.07},{"row":"FB250","col":"D","fb":"FB500","x":1.125,"y":-0.11},{"row":"FB250","col":"D","fb":"FB500","x":1.25,"y":-0.14},{"row":"FB250","col":"D","fb":"FB500","x":1.375,"y":-0.26},{"row":"FB250","col":"D","fb":"FB500","x":1.5,"y":-0.36},{"row":"FB250","col":"D","fb":"FB500","x":1.625,"y":-0.4},{"row":"FB250","col":"D","fb":"FB500","x":1.75,"y":-0.46},{"row":"FB250","col":"D","fb":"FB500","x":1.875,"y":-0.51},{"row":"FB250","col":"D","fb":"FB500","x":2,"y":-0.43},{"row":"FB250","col":"D","fb":"FB500","x":2.125,"y":-0.31},{"row":"FB250","col":"D","fb":"FB500","x":2.25,"y":-0.26},{"row":"FB250","col":"D","fb":"FB500","x":2.375,"y":-0.23},{"row":"FB250","col":"D","fb":"FB500","x":2.5,"y":-0.2},{"row":"FB250","col":"D","fb":"FB500","x":2.625,"y":-0.11},
{"row":"FB250","col":"D","fb":"FBMock","x":1,"y":-2.73},{"row":"FB250","col":"D","fb":"FBMock","x":1.125,"y":-2.53},{"row":"FB250","col":"D","fb":"FBMock","x":1.25,"y":-2.42},{"row":"FB250","col":"D","fb":"FBMock","x":1.375,"y":-2.36},{"row":"FB250","col":"D","fb":"FBMock","x":1.5,"y":-2.33},{"row":"FB250","col":"D","fb":"FBMock","x":1.625,"y":-2.22},{"row":"FB250","col":"D","fb":"FBMock","x":1.75,"y":-2.02},{"row":"FB250","col":"D","fb":"FBMock","x":1.875,"y":-1.99},{"row":"FB250","col":"D","fb":"FBMock","x":2,"y":-1.88},{"row":"FB250","col":"D","fb":"FBMock","x":2.125,"y":-1.74},{"row":"FB250","col":"D","fb":"FBMock","x":2.25,"y":-1.64},{"row":"FB250","col":"D","fb":"FBMock","x":2.375,"y":-1.56},{"row":"FB250","col":"D","fb":"FBMock","x":2.5,"y":-1.39},{"row":"FB250","col":"D","fb":"FBMock","x":2.625,"y":-1.25},{"row":"FB250","col":"D","fb":"FBMock","x":2.75,"y":-1.24},
{"row":"FB500","col":"D","fb":"FB0","x":1,"y":-0.85},{"row":"FB500","col":"D","fb":"FB0","x":1.125,"y":-0.92},{"row":"FB500","col":"D","fb":"FB0","x":1.25,"y":-1.07},{"row":"FB500","col":"D","fb":"FB0","x":1.375,"y":-1.17},{"row":"FB500","col":"D","fb":"FB0","x":1.5,"y":-1.17},{"row":"FB500","col":"D","fb":"FB0","x":1.625,"y":-1.14},{"row":"FB500","col":"D","fb":"FB0","x":1.75,"y":-1.04},{"row":"FB500","col":"D","fb":"FB0","x":1.875,"y":-0.95},{"row":"FB500","col":"D","fb":"FB0","x":2,"y":-0.95},{"row":"FB500","col":"D","fb":"FB0","x":2.125,"y":-1.02},{"row":"FB500","col":"D","fb":"FB0","x":2.25,"y":-1.02},{"row":"FB500","col":"D","fb":"FB0","x":2.375,"y":-1.02},
{"row":"FB500","col":"D","fb":"FB250","x":1,"y":0.07},{"row":"FB500","col":"D","fb":"FB250","x":1.125,"y":0.11},{"row":"FB500","col":"D","fb":"FB250","x":1.25,"y":0.17},{"row":"FB500","col":"D","fb":"FB250","x":1.375,"y":0.28},{"row":"FB500","col":"D","fb":"FB250","x":1.5,"y":0.36},{"row":"FB500","col":"D","fb":"FB250","x":1.625,"y":0.4},{"row":"FB500","col":"D","fb":"FB250","x":1.75,"y":0.46},{"row":"FB500","col":"D","fb":"FB250","x":1.875,"y":0.53},{"row":"FB500","col":"D","fb":"FB250","x":2,"y":0.5},{"row":"FB500","col":"D","fb":"FB250","x":2.125,"y":0.36},{"row":"FB500","col":"D","fb":"FB250","x":2.25,"y":0.28},{"row":"FB500","col":"D","fb":"FB250","x":2.375,"y":0.21},{"row":"FB500","col":"D","fb":"FB250","x":2.5,"y":0.17},{"row":"FB500","col":"D","fb":"FB250","x":2.625,"y":0.11},
{"row":"FB500","col":"D","fb":"FBMock","x":1,"y":-2.8,"sig":1},{"row":"FB500","col":"D","fb":"FBMock","x":1.125,"y":-2.7,"sig":1},{"row":"FB500","col":"D","fb":"FBMock","x":1.25,"y":-2.7,"sig":1},{"row":"FB500","col":"D","fb":"FBMock","x":1.375,"y":-2.7,"sig":1},{"row":"FB500","col":"D","fb":"FBMock","x":1.5,"y":-2.73,"sig":1},{"row":"FB500","col":"D","fb":"FBMock","x":1.625,"y":-2.63,"sig":1},{"row":"FB500","col":"D","fb":"FBMock","x":1.75,"y":-2.45,"sig":1},{"row":"FB500","col":"D","fb":"FBMock","x":1.875,"y":-2.32,"sig":1},{"row":"FB500","col":"D","fb":"FBMock","x":2,"y":-2.35,"sig":1},{"row":"FB500","col":"D","fb":"FBMock","x":2.125,"y":-2.39,"sig":1},{"row":"FB500","col":"D","fb":"FBMock","x":2.25,"y":-2.42,"sig":1},{"row":"FB500","col":"D","fb":"FBMock","x":2.375,"y":-2.32,"sig":1},{"row":"FB500","col":"D","fb":"FBMock","x":2.5,"y":-2.13,"sig":1},{"row":"FB500","col":"D","fb":"FBMock","x":2.625,"y":-2.02,"sig":1},
{"row":"FBMock","col":"D","fb":"FB0","x":1,"y":2.16},{"row":"FBMock","col":"D","fb":"FB0","x":1.125,"y":2.06},{"row":"FBMock","col":"D","fb":"FB0","x":1.25,"y":1.92},{"row":"FBMock","col":"D","fb":"FB0","x":1.375,"y":1.82},{"row":"FBMock","col":"D","fb":"FB0","x":1.5,"y":1.75},{"row":"FBMock","col":"D","fb":"FB0","x":1.625,"y":1.68},{"row":"FBMock","col":"D","fb":"FB0","x":1.75,"y":1.56},{"row":"FBMock","col":"D","fb":"FB0","x":1.875,"y":1.47},{"row":"FBMock","col":"D","fb":"FB0","x":2,"y":1.38},{"row":"FBMock","col":"D","fb":"FB0","x":2.125,"y":1.21},{"row":"FBMock","col":"D","fb":"FB0","x":2.25,"y":1.14},{"row":"FBMock","col":"D","fb":"FB0","x":2.375,"y":1.11},
{"row":"FBMock","col":"D","fb":"FB250","x":1,"y":2.63},{"row":"FBMock","col":"D","fb":"FB250","x":1.125,"y":2.53},{"row":"FBMock","col":"D","fb":"FB250","x":1.25,"y":2.45},{"row":"FBMock","col":"D","fb":"FB250","x":1.375,"y":2.39},{"row":"FBMock","col":"D","fb":"FB250","x":1.5,"y":2.35},{"row":"FBMock","col":"D","fb":"FB250","x":1.625,"y":2.25},{"row":"FBMock","col":"D","fb":"FB250","x":1.75,"y":2.06},{"row":"FBMock","col":"D","fb":"FB250","x":1.875,"y":2.02},{"row":"FBMock","col":"D","fb":"FB250","x":2,"y":1.92},{"row":"FBMock","col":"D","fb":"FB250","x":2.125,"y":1.78},{"row":"FBMock","col":"D","fb":"FB250","x":2.25,"y":1.64},{"row":"FBMock","col":"D","fb":"FB250","x":2.375,"y":1.56},{"row":"FBMock","col":"D","fb":"FB250","x":2.5,"y":1.39},{"row":"FBMock","col":"D","fb":"FB250","x":2.625,"y":1.28},{"row":"FBMock","col":"D","fb":"FB250","x":2.75,"y":1.25},
{"row":"FBMock","col":"D","fb":"FB500","x":1,"y":2.77,"sig":1},{"row":"FBMock","col":"D","fb":"FB500","x":1.125,"y":2.67,"sig":1},{"row":"FBMock","col":"D","fb":"FB500","x":1.25,"y":2.67,"sig":1},{"row":"FBMock","col":"D","fb":"FB500","x":1.375,"y":2.67,"sig":1},{"row":"FBMock","col":"D","fb":"FB500","x":1.5,"y":2.73,"sig":1},{"row":"FBMock","col":"D","fb":"FB500","x":1.625,"y":2.63,"sig":1},{"row":"FBMock","col":"D","fb":"FB500","x":1.75,"y":2.35,"sig":1},{"row":"FBMock","col":"D","fb":"FB500","x":1.875,"y":2.28,"sig":1},{"row":"FBMock","col":"D","fb":"FB500","x":2,"y":2.3,"sig":1},{"row":"FBMock","col":"D","fb":"FB500","x":2.125,"y":2.35,"sig":1},{"row":"FBMock","col":"D","fb":"FB500","x":2.25,"y":2.45,"sig":1},{"row":"FBMock","col":"D","fb":"FB500","x":2.375,"y":2.3,"sig":1},{"row":"FBMock","col":"D","fb":"FB500","x":2.5,"y":2.11,"sig":1},{"row":"FBMock","col":"D","fb":"FB500","x":2.625,"y":1.96,"sig":1}
]},
"facet":{
 "row":{"field":"row","type":"nominal","sort":["FB0","FB250","FB500","FBMock"],"title":null,
  "header":{"labelExpr":"[datum.value, 'statistic']","labelAngle":-90,"labelFontSize":16,"labelLineHeight":19,"labelPadding":0,"labelColor":"#262626","labelFont":"DejaVu Sans"}},
 "column":{"field":"col","type":"nominal","sort":["A","B","C","D"],"title":null,
  "header":{"labelExpr":"'\u200b\u00a0\u00a0' + (datum.value == 'A' ? 'A. magnitude' : datum.value == 'B' ? 'B. n_spindles' : datum.value == 'C' ? 'C. duration' : 'D. amplitude')","labelFontSize":18,"labelAnchor":"start","labelAlign":"left","labelPadding":11,"labelColor":"#262626","labelFont":"DejaVu Sans"}}
},
"spacing":{"row":22.5,"column":18},
"spec":{
 "width":215,"height":186,
 "layer":[
  {"transform":[{"aggregate":[{"op":"count","as":"n"}],"groupby":["row","col"]}],
   "layer":[
    {"mark":{"type":"rect","opacity":1},
     "encoding":{
      "x":{"datum":0.9,"type":"quantitative","scale":{"domain":[0.9,3.1],"nice":false,"zero":false}},
      "x2":{"datum":3.1},
      "y":{"datum":-1.645,"type":"quantitative","scale":{"domain":[-4,4],"nice":false,"zero":false}},
      "y2":{"datum":1.645},
      "fill":{"field":"row","type":"nominal","scale":{"domain":["FBMock","FB500","FB250","FB0"],"range":["#f5d3d3","#d4ebd4","#ffe4cd","#d0e2ef"]},"legend":null}}},
    {"mark":{"type":"rule","color":"#111111","strokeWidth":2.3,"strokeDash":[8,4]},
     "encoding":{"y":{"datum":1.645,"type":"quantitative"}}},
    {"mark":{"type":"rule","color":"#111111","strokeWidth":2.3,"strokeDash":[8,4]},
     "encoding":{"y":{"datum":-1.645,"type":"quantitative"}}}
   ]},
  {"mark":{"type":"line","strokeWidth":2.6},
   "encoding":{
    "x":{"field":"x","type":"quantitative","scale":{"domain":[0.9,3.1],"nice":false,"zero":false},"axis":{"values":[1,2,3],"format":"d","title":"threshold_factor","labelPadding":9,"titlePadding":7,"titleFontSize":17}},
    "y":{"field":"y","type":"quantitative","scale":{"domain":[-4,4],"nice":false,"zero":false},"axis":{"values":[-4,-2,0,2,4],"title":null,"labelExpr":"replace(datum.label, '-', '\u2212')"}},
    "color":{"field":"fb","type":"nominal","title":"fb_type","scale":{"domain":["FB0","FB250","FB500","FBMock"],"range":["#1f77b4","#ff7f0e","#2ca02c","#d62728"]},
     "legend":{"orient":"none","legendX":947,"legendY":351}}}},
  {"transform":[{"filter":"datum.sig == 1"}],
   "mark":{"type":"point","filled":true,"opacity":1,"size":190,"shape":"M0,-1L0.2245,-0.309L0.9511,-0.309L0.3633,0.118L0.5878,0.809L0,0.382L-0.5878,0.809L-0.3633,0.118L-0.9511,-0.309L-0.2245,-0.309Z"},
   "encoding":{
    "x":{"field":"x","type":"quantitative"},
    "y":{"field":"y","type":"quantitative"},
    "color":{"field":"fb","type":"nominal","title":"fb_type"}}}
 ]
},
"config":{
 "font":"DejaVu Sans",
 "view":{"stroke":"#262626","strokeWidth":1.2,"strokeDash":[401,401],"strokeDashOffset":401},
 "axis":{"grid":false,"domainColor":"#262626","domainWidth":1.2,"tickColor":"#262626","tickWidth":1.2,"tickSize":6,"labelColor":"#262626","titleColor":"#262626","labelFontSize":15,"titleFontSize":15,"titleFontWeight":"normal","labelFont":"DejaVu Sans","titleFont":"DejaVu Sans","labelPadding":4,"titlePadding":6},
 "legend":{"symbolType":"stroke","symbolStrokeWidth":2.5,"symbolSize":700,"titleFontSize":15,"titleFontWeight":"normal","labelFontSize":15,"titleColor":"#262626","labelColor":"#262626","rowPadding":4,"titlePadding":10,"labelOffset":10,"titleFont":"DejaVu Sans","labelFont":"DejaVu Sans"}
}
}
